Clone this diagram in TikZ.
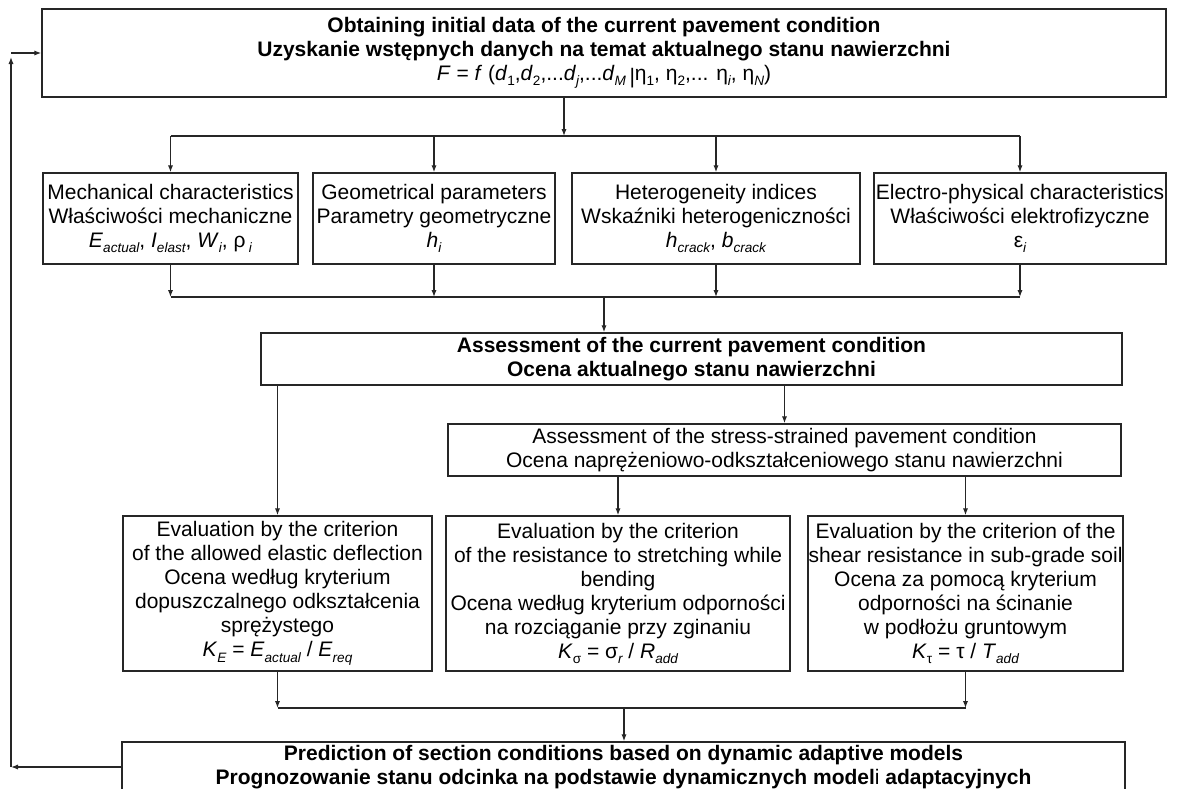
\documentclass[tikz,border=0pt]{standalone}
\usepackage{fontspec}
\setmainfont{Liberation Sans}
\usetikzlibrary{positioning}
\usetikzlibrary{calc}
\usetikzlibrary{arrows.meta}

\newcommand{\sbi}[1]{\raisebox{-0.5ex}{\fontsize{6.8}{7}\selectfont\itshape #1}}
\newcommand{\sbu}[1]{\raisebox{-0.5ex}{\fontsize{6.8}{7}\selectfont #1}}

\begin{document}
\begin{tikzpicture}[x=0.5pt, y=-0.5pt, >={Latex[length=3.5pt,width=2.6pt]},
	box/.style={draw=black!85, line width=0.7pt, rectangle, inner sep=0pt, align=center, font=\fontsize{10.5}{12}\selectfont},
	wire/.style={draw=black!85, line width=0.6pt},
	link/.style={wire, ->}]
			\useasboundingbox (0,0) rectangle (1179,788);
			\clip (0,0) rectangle (1179,788);

			\node[box, minimum width=562pt, minimum height=44pt] (init) at (604,53) {\textbf{Obtaining initial data of the current pavement condition}\\\textbf{Uzyskanie wstępnych danych na temat aktualnego stanu nawierzchni}\\\textit{F} = \textit{f} (\textit{d}\sbu{1},\textit{d}\sbu{2},...\textit{d}\sbi{j},...\textit{d}\sbi{M}\,\raisebox{-0.3ex}{|}η\sbu{1}, η\sbu{2},... η\sbi{i}, η\sbi{N})};

			\node[box, minimum width=127.5pt, minimum height=45.5pt] (mech) at (170.5,218.5) {Mechanical characteristics\\Właściwości mechaniczne\\\textit{E}\sbi{actual}, \textit{I}\sbi{elast}, \textit{W}\sbi{i}, ρ\,\sbi{i}};
			\node[box, minimum width=121pt, minimum height=45.5pt] (geo) at (434,218.5) {Geometrical parameters\\Parametry geometryczne\\\textit{h}\sbi{i}};
			\node[box, minimum width=144pt, minimum height=45.5pt] (het) at (716,218.5) {Heterogeneity indices\\Wskaźniki heterogeniczności\\\textit{h}\sbi{crack}, \textit{b}\sbi{crack}};
			\node[box, minimum width=146pt, minimum height=45.5pt] (elec) at (1020,218.5) {Electro-physical characteristics\\Właściwości elektrofizyczne\\ε\sbi{i}};

			\node[box, minimum width=430.5pt, minimum height=26pt] (assess) at (691.5,359) {\textbf{Assessment of the current pavement condition}\\\textbf{Ocena aktualnego stanu nawierzchni}};
			\node[box, minimum width=336.5pt, minimum height=26pt] (stress) at (784.5,450) {Assessment of the stress-strained pavement condition\\Ocena naprężeniowo-odkształceniowego stanu nawierzchni};

			\node[box, minimum width=154.5pt, minimum height=77.5pt] (evalA) at (277.5,593.5) {Evaluation by the criterion\\of the allowed elastic deflection\\Ocena według kryterium\\dopuszczalnego odkształcenia\\sprężystego\\\textit{K}\sbi{E} = \textit{E}\sbi{actual} / \textit{E}\sbi{req}};
			\node[box, minimum width=172pt, minimum height=77.5pt] (evalB) at (618,593.5) {Evaluation by the criterion\\of the resistance to stretching while\\bending\\Ocena według kryterium odporności\\na rozciąganie przy zginaniu\\\textit{K}\sbu{σ} = σ\sbi{r} / \textit{R}\sbi{add}};
			\node[box, minimum width=157.5pt, minimum height=77.5pt] (evalC) at (965.5,593.5) {Evaluation by the criterion of the\\shear resistance in sub-grade soil\\Ocena za pomocą kryterium\\odporności na ścinanie\\w podłożu gruntowym\\\textit{K}\sbu{τ} = τ / \textit{T}\sbi{add}};

			\node[box, minimum width=501.5pt, minimum height=25pt] (pred) at (623.5,767) {\textbf{Prediction of section conditions based on dynamic adaptive models}\\\textbf{Prognozowanie stanu odcinka na podstawie dynamicznych model{\mdseries i} adaptacyjnych}};

			% split after the initial data
			\coordinate (split) at (564,136);
			\draw[link] (init.south -| split) -- (split);
			\draw[wire] (split -| mech) -- (split -| elec);
			\foreach \n in {mech,geo,het,elec}
				\draw[link] (split -| \n) -- (\n.north);

			% join into the assessment
			\coordinate (join) at (604,297);
			\foreach \n in {mech,geo,het,elec}
				\draw[link] (\n.south) -- (join -| \n);
			\draw[wire] (join -| mech) -- (join -| elec);
			\draw[link] (join) -- (join |- assess.north);

			\draw[link] (assess.south -| evalA) -- (evalA.north);
			\draw[link] (assess.south -| stress) -- (stress.north);
			\draw[link] (stress.south -| evalB) -- (evalB.north);
			\draw[link] (stress.south -| evalC) -- (evalC.north);

			% merge into the prediction
			\coordinate (merge) at (624,708);
			\draw[link] (evalA.south) -- (merge -| evalA);
			\draw[link] (evalC.south) -- (merge -| evalC);
			\draw[wire] (merge -| evalA) -- (merge -| evalC);
			\draw[link] (merge) -- (merge |- pred.north);

			% feedback loop
			\coordinate (loop) at (11,53);
			\draw[link] (pred.west) -- (pred.west -| loop);
			\draw[link] (pred.west -| loop) -- ($(loop)+(0,4)$);
			\draw[link] (loop) -- (init.west);
		\end{tikzpicture}
\end{document}
